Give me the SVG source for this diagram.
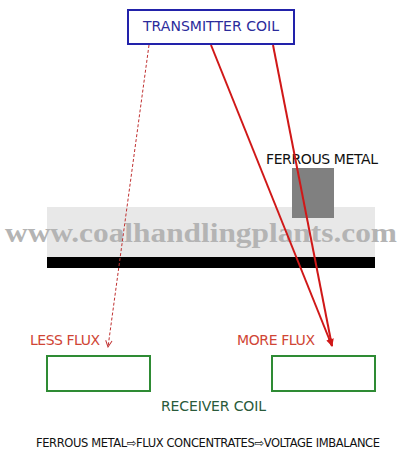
<svg xmlns="http://www.w3.org/2000/svg" width="400" height="459" viewBox="0 0 400 459">
<style>
text{font-family:"DejaVu Sans","Liberation Sans",sans-serif}
.lbl{font-size:13px}
.coil{fill:#fff;stroke:#2e8b34;stroke-width:2}
.red{stroke:#d01818;stroke-width:2;fill:none}
</style>
<defs>
<marker id="open" viewBox="0 0 10 10" refX="9" refY="5" markerWidth="8" markerHeight="8" orient="auto" markerUnits="userSpaceOnUse">
<path d="M1,1 L9,5 L1,9" fill="none" stroke="#c03030" stroke-width="1.2"/>
</marker>
<marker id="fill" viewBox="0 0 10 10" refX="9" refY="5" markerWidth="8" markerHeight="8" orient="auto" markerUnits="userSpaceOnUse">
<path d="M0,1 L10,5 L0,9 z" fill="#d01818"/>
</marker>
</defs>
<rect width="400" height="459" fill="#fff"/>
<g id="conveyor">
<rect x="47" y="207" width="328" height="50" fill="#e8e8e8"/>
<rect x="47" y="257" width="328" height="11" fill="#000"/>
</g>
<g id="ferrous-metal">
<rect x="292" y="168" width="42" height="50" fill="#808080"/>
<text x="266" y="164" font-size="14" textLength="112" fill="#111">FERROUS METAL</text>
</g>
<text x="5" y="242" font-family="Liberation Serif,serif" font-weight="bold" font-size="27" fill="#b4b4b4" textLength="392" lengthAdjust="spacingAndGlyphs" style="font-family:'Liberation Serif',serif">www.coalhandlingplants.com</text>
<g id="transmitter">
<rect x="128" y="10" width="166" height="34" fill="#fff" stroke="#2222aa" stroke-width="2"/>
<text x="211" y="31" font-size="14" text-anchor="middle" fill="#2b2b9b" textLength="136">TRANSMITTER COIL</text>
</g>
<g id="connectors">
<line x1="149" y1="45" x2="108" y2="347" stroke="#c03030" stroke-width="1" stroke-dasharray="3,2" marker-end="url(#open)"/>
<line class="red" x1="211" y1="45" x2="332" y2="346" marker-end="url(#fill)"/>
<line class="red" x1="273" y1="45" x2="332" y2="346" marker-end="url(#fill)"/>
</g>
<g id="less-flux">
<text x="30" y="345" font-size="14" textLength="70" fill="#d04535">LESS FLUX</text>
</g>
<g id="more-flux">
<text x="237" y="345" font-size="14" textLength="78" fill="#d04535">MORE FLUX</text>
</g>
<g id="receiver-left"><rect class="coil" x="47" y="356" width="103" height="35"/></g>
<g id="receiver-right"><rect class="coil" x="272" y="356" width="103" height="35"/></g>
<g id="receiver-label">
<text x="161" y="411" font-size="14" textLength="105" fill="#2a5a3a">RECEIVER COIL</text>
</g>
<g id="caption">
<text x="36" y="447" font-size="11.5" textLength="344" fill="#111">FERROUS METAL⇨FLUX CONCENTRATES⇨VOLTAGE IMBALANCE</text>
</g>
</svg>
